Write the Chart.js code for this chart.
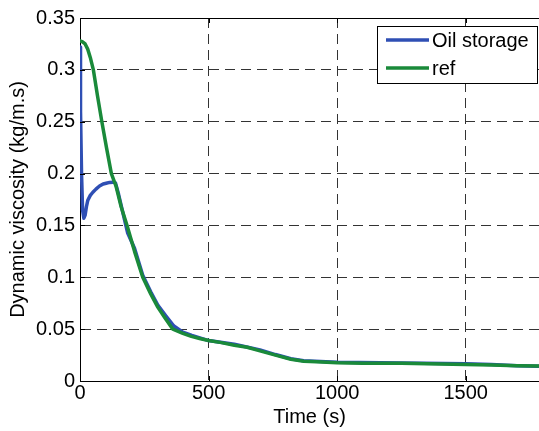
<!DOCTYPE html>
<html>
<head>
<meta charset="utf-8">
<script src="https://cdn.jsdelivr.net/npm/chart.js@4"></script>
<style>
  body { margin: 0; background: #fff; }
  canvas { display: block; }
</style>
</head>
<body>
<canvas id="myChart" width="539" height="431"></canvas>
<script>
// series (time in s, viscosity in kg/m.s)
const oilTime = [0, 1, 3, 6, 10, 15, 20, 25, 30, 40, 50, 62, 76, 90, 102, 115, 128, 138, 150, 165, 185, 212, 244, 275, 303, 333, 365, 400, 435, 500, 600, 700, 760, 820, 870, 1000, 1250, 1500, 1600, 1700, 1785];
const oilValue = [0.322, 0.31, 0.26, 0.20, 0.165, 0.157, 0.160, 0.168, 0.174, 0.179, 0.182, 0.185, 0.188, 0.190, 0.1907, 0.1915, 0.1917, 0.191, 0.180, 0.164, 0.143, 0.128, 0.102, 0.086, 0.073, 0.063, 0.053, 0.047, 0.044, 0.039, 0.0355, 0.030, 0.0255, 0.0215, 0.0195, 0.018, 0.0173, 0.0167, 0.016, 0.0148, 0.0142];

const refTime = [0, 10, 20, 30, 40, 52, 68, 85, 103, 122, 140, 160, 183, 212, 244, 275, 303, 330, 361, 400, 433, 465, 500, 550, 600, 650, 700, 760, 820, 870, 920, 1000, 1100, 1250, 1400, 1500, 1600, 1700, 1785];
const refValue = [0.328, 0.327, 0.325, 0.320, 0.312, 0.300, 0.275, 0.250, 0.225, 0.200, 0.188, 0.168, 0.150, 0.125, 0.100, 0.084, 0.071, 0.061, 0.050, 0.046, 0.043, 0.041, 0.039, 0.037, 0.0345, 0.0325, 0.029, 0.025, 0.021, 0.019, 0.0185, 0.0176, 0.0172, 0.0170, 0.0165, 0.0160, 0.0155, 0.0148, 0.0144];

const seriesNames = ['Oil storage', 'ref'];
const xTicks = [0, 500, 1000, 1500];
const yTicks = [0, 0.05, 0.1, 0.15, 0.2, 0.25, 0.3, 0.35];

const toPoints = (xs, ys) => xs.map((x, i) => ({ x: x, y: ys[i] }));

const font = { family: 'Liberation Sans, Arial, sans-serif', size: 20 };

// matlab style box: top border, inward ticks and legend inside the axes
const boxPlugin = {
  id: 'box',
  afterDatasetsDraw(chart) {
    const ctx = chart.ctx;
    const a = chart.chartArea;
    const xs = chart.scales.x;
    const ys = chart.scales.y;
    ctx.save();
    ctx.strokeStyle = '#000';
    ctx.lineWidth = 1;
    ctx.beginPath();
    ctx.moveTo(a.left, a.top + 0.5);
    ctx.lineTo(a.right, a.top + 0.5);
    xTicks.forEach(t => {
      const px = Math.round(xs.getPixelForValue(t)) + 0.5;
      ctx.moveTo(px, a.top);
      ctx.lineTo(px, a.top + 5);
      ctx.moveTo(px, a.bottom);
      ctx.lineTo(px, a.bottom - 5);
    });
    yTicks.forEach(t => {
      const py = Math.round(ys.getPixelForValue(t)) + 0.5;
      ctx.moveTo(a.left, py);
      ctx.lineTo(a.left + 5, py);
    });
    ctx.stroke();

    // legend
    const lx = 377, ly = 26, lw = 160, lh = 57;
    ctx.fillStyle = '#fff';
    ctx.fillRect(lx, ly, lw, lh);
    ctx.strokeRect(lx + 0.5, ly + 0.5, lw, lh);
    ctx.font = font.size + 'px ' + font.family;
    ctx.textBaseline = 'middle';
    chart.data.datasets.forEach((ds, i) => {
      const y = ly + 14 + i * 28;
      ctx.strokeStyle = ds.borderColor;
      ctx.lineWidth = 3.5;
      ctx.beginPath();
      ctx.moveTo(386, y);
      ctx.lineTo(429, y);
      ctx.stroke();
      ctx.fillStyle = '#000';
      ctx.fillText(ds.label, 432, y + 1);
    });
    ctx.restore();
  }
};

const config = {
  type: 'line',
  data: {
    datasets: [{
      label: seriesNames[0],
      data: toPoints(oilTime, oilValue),
      borderColor: '#2f4fb4',
      borderWidth: 3.5,
      order: 1
    }, {
      label: seriesNames[1],
      data: toPoints(refTime, refValue),
      borderColor: '#1a8a3a',
      borderWidth: 3.5,
      order: 0
    }]
  },
  options: {
    responsive: false,
    animation: false,
    events: [],
    layout: { padding: { top: 18, right: 0, left: 0, bottom: 0 } },
    elements: {
      point: { radius: 0 },
      line: { tension: 0, borderCapStyle: 'round', borderJoinStyle: 'round' }
    },
    plugins: {
      legend: { display: false },
      tooltip: { enabled: false }
    },
    scales: {
      x: {
        type: 'linear',
        min: 0,
        max: 1785,
        afterBuildTicks: s => { s.ticks = xTicks.map(v => ({ value: v })); },
        afterFit: s => { s.height = 50; },
        ticks: {
          color: '#000',
          font: font,
          padding: 0,
          maxRotation: 0,
          callback: v => String(v)
        },
        grid: { color: '#333', lineWidth: 1, drawTicks: false },
        border: { color: '#000', width: 1, dash: [10, 6] },
        title: {
          display: true,
          text: 'Time (s)',
          color: '#000',
          font: font,
          padding: { top: 0, bottom: 2 }
        }
      },
      y: {
        min: 0,
        max: 0.35,
        afterBuildTicks: s => { s.ticks = yTicks.map(v => ({ value: v })); },
        afterFit: s => { s.width = 80; },
        ticks: {
          color: '#000',
          font: font,
          padding: 5,
          callback: v => String(+v.toFixed(2))
        },
        grid: { color: '#333', lineWidth: 1, drawTicks: false },
        border: { color: '#000', width: 1, dash: [10, 6] },
        title: {
          display: true,
          text: 'Dynamic viscosity (kg/m.s)',
          color: '#000',
          font: font,
          padding: { top: 6, bottom: 0 }
        }
      }
    }
  },
  plugins: [boxPlugin]
};

const myChart = new Chart(document.getElementById('myChart'), config);
</script>
</body>
</html>
